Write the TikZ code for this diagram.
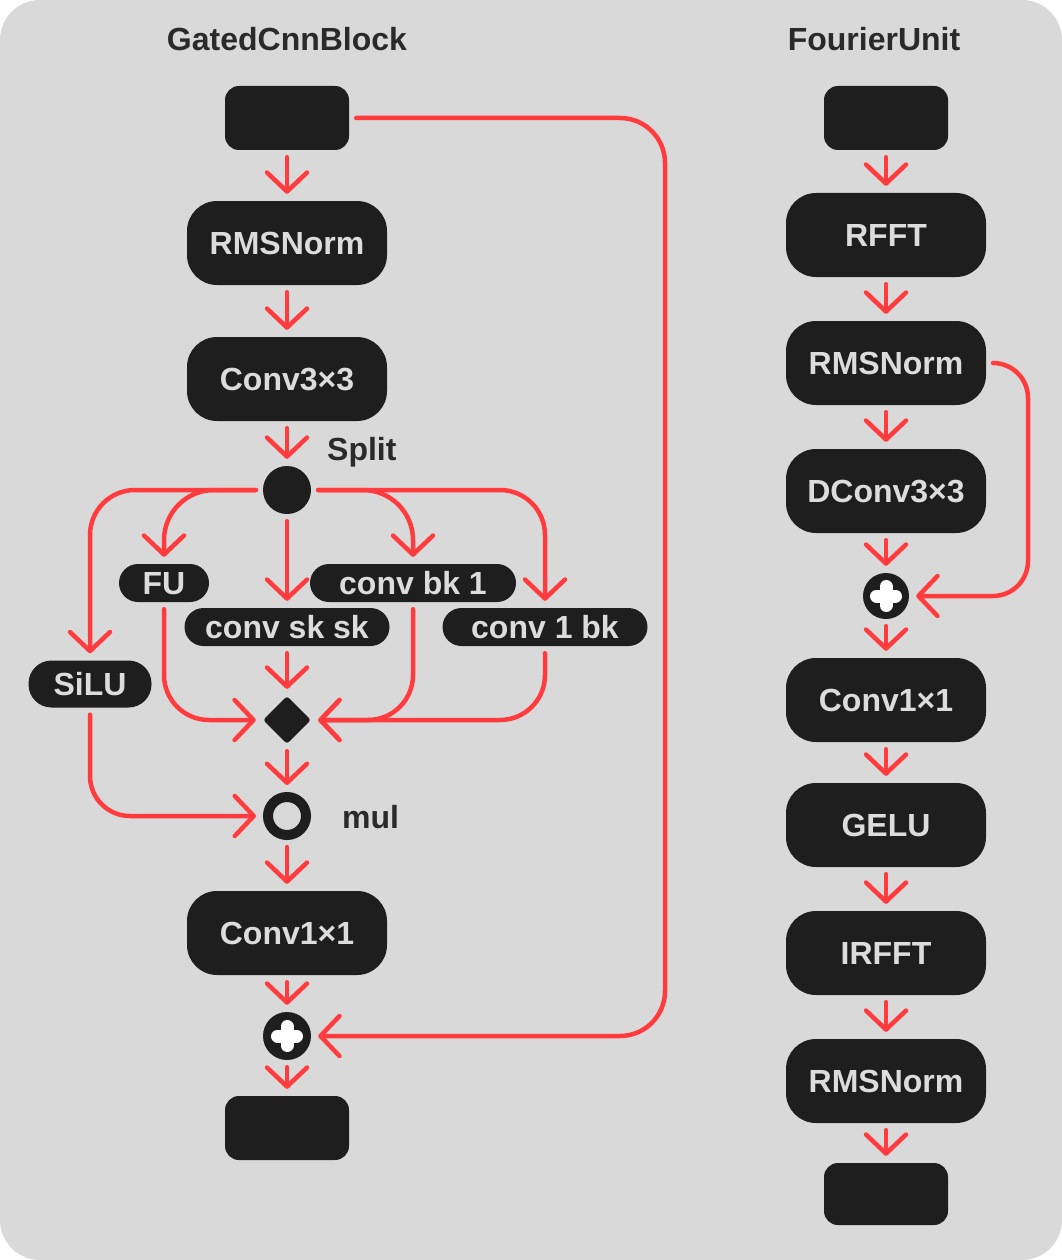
\documentclass[tikz,border=0pt]{standalone}
\usepackage{fontspec}
\setmainfont{Liberation Sans}
\usetikzlibrary{arrows.meta,shapes.geometric,calc}
\definecolor{bg}{HTML}{D9D9D9}
\definecolor{boxc}{HTML}{1E1E1E}
\definecolor{redc}{HTML}{FF3B3E}
\definecolor{txt}{HTML}{DCDCDC}
\definecolor{ttl}{HTML}{2A2A2A}
\begin{document}
\begin{tikzpicture}[x=1pt,y=-1pt,
  font=\fontsize{32}{37}\selectfont\bfseries,
  bigbox/.style={fill=boxc, text=txt, rounded corners=30pt, minimum width=200pt, minimum height=84pt, inner sep=0pt, text height=23pt, text depth=0pt},
  iobox/.style={fill=boxc, rounded corners=14pt, minimum width=124pt, minimum height=64pt, inner sep=0pt},
  pill/.style={fill=boxc, text=txt, rounded corners=19pt, minimum height=38pt, inner sep=0pt, text height=23pt, text depth=0pt},
  dot/.style={circle, fill=boxc, minimum size=48pt, inner sep=0pt},
  ring/.style={circle, draw=boxc, line width=10pt, minimum size=38pt, inner sep=0pt},
  diam/.style={diamond, fill=boxc, minimum width=48pt, minimum height=48pt, inner sep=0pt, rounded corners=3pt},
  lbl/.style={text=ttl, text height=23pt, text depth=0pt, inner sep=0pt},
  arr/.style={draw=redc, line width=4.5pt, line cap=round, line join=round, -{Straight Barb[length=19pt,width=40pt,round]}, shorten <=7pt, shorten >=7pt},
  plusarm/.style={white, line width=13pt, line cap=round}
]
\useasboundingbox (0,0) rectangle (1062,1260);
\fill[white] (0,0) rectangle (1062,1260);
\fill[bg, rounded corners=40pt] (0,0) rectangle (1062,1260);

% titles
\node[lbl] (t1) at (287,39) {GatedCnnBlock};
\node[lbl] (t2) at (874,39) {FourierUnit};

% left column
\node[iobox] (in1) at (287,118) {};
\node[bigbox] (rms1) at (287,243) {RMSNorm};
\node[bigbox] (conv3) at (287,379) {Conv3×3};
\node[dot] (split) at (287,490) {};
\node[lbl, anchor=west] (splitl) at (327,449) {Split};
\node[pill, minimum width=90pt] (fu) at (164,583) {FU};
\node[pill, minimum width=205pt] (convsk) at (287,627) {conv sk sk};
\node[pill, minimum width=206pt] (convbk1) at (413,583) {conv bk 1};
\node[pill, minimum width=205pt] (conv1bk) at (545,627) {conv 1 bk};
\node[pill, minimum width=123pt, minimum height=47pt, rounded corners=23pt] (silu) at (90,684) {SiLU};
\node[diam] (dia) at (287,720) {};
\node[ring] (mul) at (287,816) {};
\node[lbl, anchor=west] (mull) at (342,817) {mul};
\node[bigbox] (conv1) at (287,933) {Conv1×1};
\node[dot] (plus1) at (287,1036) {};
\node[iobox] (out1) at (287,1128) {};

\draw[plusarm] ([xshift=-9.5pt]plus1.center) -- ([xshift=9.5pt]plus1.center);
\draw[plusarm] ([yshift=-9.5pt]plus1.center) -- ([yshift=9.5pt]plus1.center);

\draw[arr] (in1) -- (rms1);
\draw[arr] (rms1) -- (conv3);
\draw[arr] (conv3) -- (split);
\draw[arr, rounded corners=45pt] (split.west) -| (silu.north);
\draw[arr, rounded corners=50pt] (split.west) -| (fu.north);
\draw[arr] (split.south) -- (convsk.north);
\draw[arr, rounded corners=50pt] (split.east) -| (convbk1.north);
\draw[arr, rounded corners=45pt] (split.east) -| (conv1bk.north);
\draw[arr, rounded corners=45pt] (fu.south) |- (dia.west);
\draw[arr] (convsk.south) -- (dia.north);
\draw[arr, rounded corners=45pt] (convbk1.south) |- (dia.east);
\draw[arr, rounded corners=45pt] (conv1bk.south) |- (dia.east);
\draw[arr] (dia.south) -- (mul.north);
\draw[arr, rounded corners=40pt] (silu.south) |- (mul.west);
\draw[arr] (mul.south) -- (conv1.north);
\draw[arr] (conv1.south) -- (plus1.north);
\draw[arr] (plus1.south) -- (out1.north);
\coordinate (s1) at (665,118);
\coordinate (s2) at (665,1036);
\draw[arr, rounded corners=45pt] (in1.east) -- (s1) -- (s2) -- (plus1.east);

% right column
\node[iobox] (in2) at (886,118) {};
\node[bigbox] (rfft) at (886,235) {RFFT};
\node[bigbox] (rms2) at (886,363) {RMSNorm};
\node[bigbox] (dconv) at (886,491) {DConv3×3};
\node[dot, minimum size=46pt] (plus2) at (886,596) {};
\node[bigbox] (conv1b) at (886,700) {Conv1×1};
\node[bigbox] (gelu) at (886,825) {GELU};
\node[bigbox] (irfft) at (886,953) {IRFFT};
\node[bigbox] (rms3) at (886,1081) {RMSNorm};
\node[iobox, minimum height=62pt] (out2) at (886,1194) {};

\draw[plusarm] ([xshift=-9.5pt]plus2.center) -- ([xshift=9.5pt]plus2.center);
\draw[plusarm] ([yshift=-9.5pt]plus2.center) -- ([yshift=9.5pt]plus2.center);

\draw[arr] (in2) -- (rfft);
\draw[arr] (rfft) -- (rms2);
\draw[arr] (rms2) -- (dconv);
\draw[arr] (dconv) -- (plus2);
\draw[arr] (plus2) -- (conv1b);
\draw[arr] (conv1b) -- (gelu);
\draw[arr] (gelu) -- (irfft);
\draw[arr] (irfft) -- (rms3);
\draw[arr] (rms3) -- (out2);
\coordinate (r1) at (1028,363);
\coordinate (r2) at (1028,596);
\draw[arr, rounded corners=35pt] (rms2.east) -- (r1) -- (r2) -- (plus2.east);
\end{tikzpicture}
\end{document}
